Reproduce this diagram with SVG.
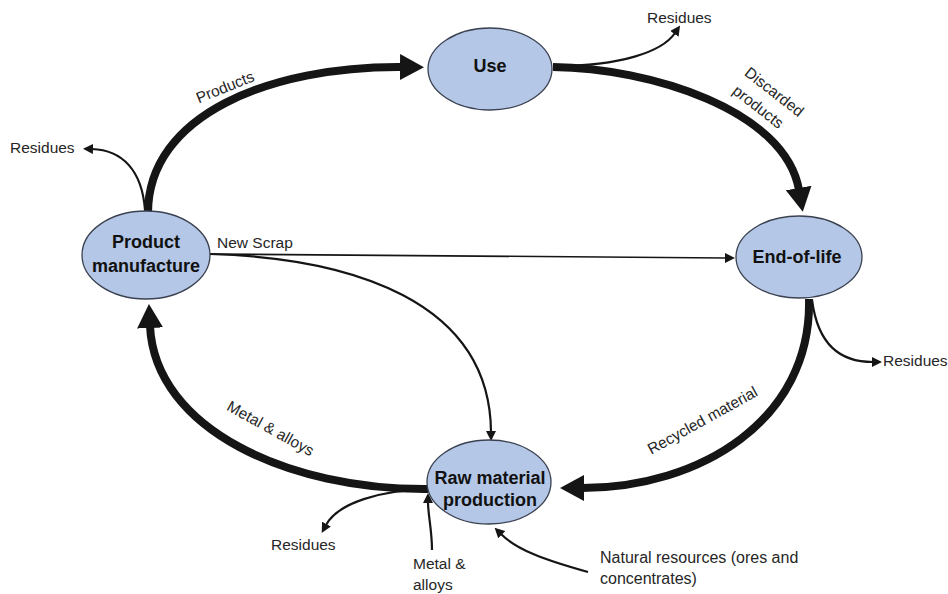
<svg xmlns="http://www.w3.org/2000/svg" width="948" height="594" viewBox="0 0 948 594">
<style>
.node{fill:#b4c7e7;stroke:#3a4150;stroke-width:1.3}
.nt{font-family:"Liberation Sans",Arial,sans-serif;font-weight:bold;font-size:18px;fill:#111;text-anchor:middle}
.lb{font-family:"Liberation Sans",Arial,sans-serif;font-size:15.5px;fill:#262626}
.thick{fill:none;stroke:#151515;stroke-width:8}
.thin{fill:none;stroke:#151515;stroke-width:2.2}
.hair{fill:none;stroke:#151515;stroke-width:1.6}
</style>
<defs>
<marker id="big" markerUnits="userSpaceOnUse" markerWidth="26" markerHeight="26" viewBox="0 0 26 26" refX="2" refY="13" orient="auto">
<path d="M0,0 L24,13 L0,26 z" fill="#151515"/>
</marker>
<marker id="small" markerUnits="userSpaceOnUse" markerWidth="10" markerHeight="10" viewBox="0 0 10 10" refX="1" refY="5" orient="auto">
<path d="M0,0 L10,5 L0,10 z" fill="#151515"/>
</marker>
</defs>
<g id="connectors">
<path class="thick" d="M148,213 C 148,115 270,66 402,67" marker-end="url(#big)"/>
<path class="thin" d="M145,210 C 142,170 122,150 92,149" marker-end="url(#small)"/>
<path class="thick" d="M553,67 C 650,68 785,110 799,190" marker-end="url(#big)"/>
<path class="thin" d="M556,66 C 620,66 662,52 675,33" marker-end="url(#small)"/>
<path class="thick" d="M809,299 C 812,420 700,488 582,488" marker-end="url(#big)"/>
<path class="thin" d="M812,300 C 818,345 840,362 873,362" marker-end="url(#small)"/>
<path class="thick" d="M428,489 C 290,490 155,430 150,326" marker-end="url(#big)"/>
<path class="thin" d="M430,489 C 380,490 338,503 326,525" marker-end="url(#small)"/>
<path class="thin" d="M432,550 C 432,530 428,515 428,502" marker-end="url(#small)"/>
<path class="thin" d="M588,572 C 545,560 517,550 501,534" marker-end="url(#small)"/>
<path class="hair" d="M210,254 L726,258" marker-end="url(#small)"/>
<path class="thin" d="M210,254 C 350,258 490,300 491,432" marker-end="url(#small)"/>
</g>
<g id="labels">
<text class="lb" text-anchor="middle" transform="translate(227,92) rotate(-22)">Products</text>
<text class="lb" text-anchor="middle" transform="translate(771,96) rotate(38)">Discarded</text>
<text class="lb" text-anchor="middle" transform="translate(755,111) rotate(38)">products</text>
<text class="lb" text-anchor="middle" transform="translate(268,433) rotate(29)">Metal &amp; alloys</text>
<text class="lb" text-anchor="middle" transform="translate(705,425) rotate(-29)">Recycled material</text>
<text class="lb" x="217" y="248">New Scrap</text>
<text class="lb" x="10" y="153">Residues</text>
<text class="lb" x="647" y="23">Residues</text>
<text class="lb" x="883" y="366">Residues</text>
<text class="lb" x="271" y="550">Residues</text>
<text class="lb" x="413" y="569">Metal &amp;</text>
<text class="lb" x="413" y="590">alloys</text>
<text class="lb" x="600" y="563" style="font-size:16px">Natural resources (ores and</text>
<text class="lb" x="600" y="584" style="font-size:16px">concentrates)</text>
</g>
<g id="use">
<ellipse class="node" cx="490" cy="69" rx="62" ry="41"/>
<text class="nt" x="490" y="72">Use</text>
</g>
<g id="product-manufacture">
<ellipse class="node" cx="146" cy="255" rx="64" ry="44"/>
<text class="nt" x="146" y="248">Product</text>
<text class="nt" x="146" y="272">manufacture</text>
</g>
<g id="end-of-life">
<ellipse class="node" cx="799" cy="257" rx="63" ry="41"/>
<text class="nt" x="797" y="263">End-of-life</text>
</g>
<g id="raw-material-production">
<ellipse class="node" cx="489" cy="482" rx="62" ry="42"/>
<text class="nt" x="490" y="484">Raw material</text>
<text class="nt" x="490" y="506">production</text>
</g>
</svg>
